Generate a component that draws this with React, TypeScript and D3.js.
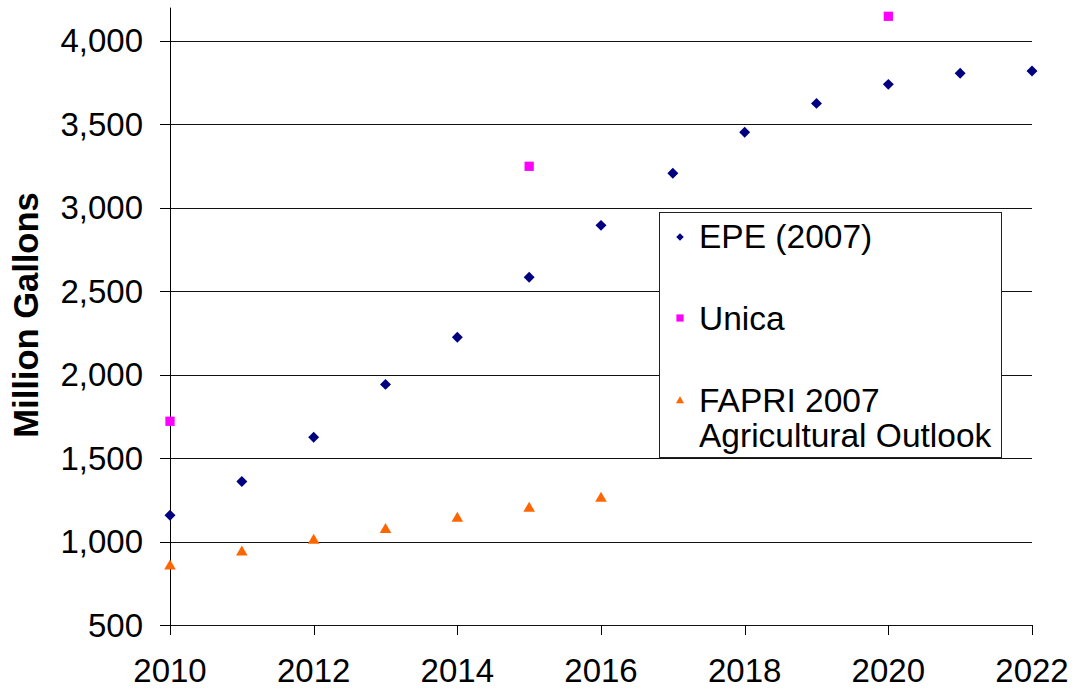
import * as d3 from 'd3'

// EPE (2007) projections
const epeYears = [2010, 2011, 2012, 2013, 2014, 2015, 2016, 2017, 2018, 2019, 2020, 2021, 2022]
const epeValues = [1158, 1360, 1625, 1942, 2225, 2584, 2895, 3207, 3453, 3626, 3740, 3806, 3820]

// Unica
const unicaYears = [2010, 2015, 2020]
const unicaValues = [1721, 3249, 4148]

// FAPRI 2007 Agricultural Outlook
const fapriYears = [2010, 2011, 2012, 2013, 2014, 2015, 2016]
const fapriValues = [853, 937, 1007, 1071, 1139, 1199, 1258]

const xTicks = [2010, 2012, 2014, 2016, 2018, 2020, 2022]
const yTicks = [500, 1000, 1500, 2000, 2500, 3000, 3500, 4000]

const W = 1075
const H = 690
const font = '"Liberation Sans", Arial, sans-serif'

const NAVY = '#000080'
const MAGENTA = '#FF00FF'
const ORANGE = '#FF6600'

export default function App() {
  const x = d3.scaleLinear().domain([2010, 2022]).range([170, 1032])
  const y = d3.scaleLinear().domain([500, 4200]).range([625, 7.6])
  const fmt = d3.format(',')

  const diamond = d3.symbol(d3.symbolSquare, 60)()!
  const square = d3.symbol(d3.symbolSquare, 86)()!
  const triangle = d3.symbol(d3.symbolTriangle, 58)()!

  const legDiamond = d3.symbol(d3.symbolSquare, 28)()!
  const legSquare = d3.symbol(d3.symbolSquare, 52)()!
  const legTriangle = d3.symbol(d3.symbolTriangle, 28)()!

  const [x0, x1] = x.range()
  const [yBottom, yTop] = y.range()

  return (
    <svg width={W} height={H} style={{ position: 'absolute', left: 0, top: 0, background: '#fff' }}
      fontFamily={font}>
      {/* gridlines */}
      {yTicks.map(t => (
        <line key={'g' + t} x1={x0} x2={x1} y1={Math.round(y(t)) + 0.5} y2={Math.round(y(t)) + 0.5}
          stroke="#111" strokeWidth={1} />
      ))}
      {/* y axis */}
      <line x1={x0 + 0.5} x2={x0 + 0.5} y1={yTop} y2={yBottom + 10} stroke="#000" />
      {yTicks.map(t => (
        <g key={'y' + t}>
          <line x1={x0 - 10} x2={x0} y1={Math.round(y(t)) + 0.5} y2={Math.round(y(t)) + 0.5} stroke="#000" />
          <text x={143} y={y(t) + 11.5} textAnchor="end" fontSize={33}>{fmt(t)}</text>
        </g>
      ))}
      {/* x axis ticks */}
      {xTicks.map(t => (
        <g key={'x' + t}>
          <line x1={Math.round(x(t)) + 0.5} x2={Math.round(x(t)) + 0.5} y1={yBottom} y2={yBottom + 10} stroke="#000" />
          <text x={x(t)} y={682} textAnchor="middle" fontSize={33}>{t}</text>
        </g>
      ))}
      <text transform={`translate(38, ${315}) rotate(-90)`} textAnchor="middle" fontSize={34.5}
        fontWeight="bold">Million Gallons</text>

      {/* series */}
      {fapriYears.map((yr, i) => (
        <path key={'f' + yr} d={triangle} fill={ORANGE}
          transform={`translate(${x(yr)}, ${y(fapriValues[i])})`} />
      ))}
      {epeYears.map((yr, i) => (
        <path key={'e' + yr} d={diamond} fill={NAVY}
          transform={`translate(${x(yr)}, ${y(epeValues[i])}) rotate(45)`} />
      ))}
      {unicaYears.map((yr, i) => (
        <path key={'u' + yr} d={square} fill={MAGENTA}
          transform={`translate(${x(yr)}, ${y(unicaValues[i])})`} />
      ))}

      {/* legend */}
      <g>
        <rect x={659.5} y={212.5} width={342} height={245} fill="#fff" stroke="#222" strokeWidth={1} />
        <path d={legDiamond} fill={NAVY} transform="translate(680, 237) rotate(45)" />
        <text x={699} y={248} fontSize={33.5}>EPE (2007)</text>
        <path d={legSquare} fill={MAGENTA} transform="translate(680, 318)" />
        <text x={699} y={330} fontSize={33.5}>Unica</text>
        <path d={legTriangle} fill={ORANGE} transform="translate(680, 401)" />
        <text x={699} y={412} fontSize={33.5}>FAPRI 2007</text>
        <text x={699} y={447} fontSize={33.5}>Agricultural Outlook</text>
      </g>
    </svg>
  )
}
